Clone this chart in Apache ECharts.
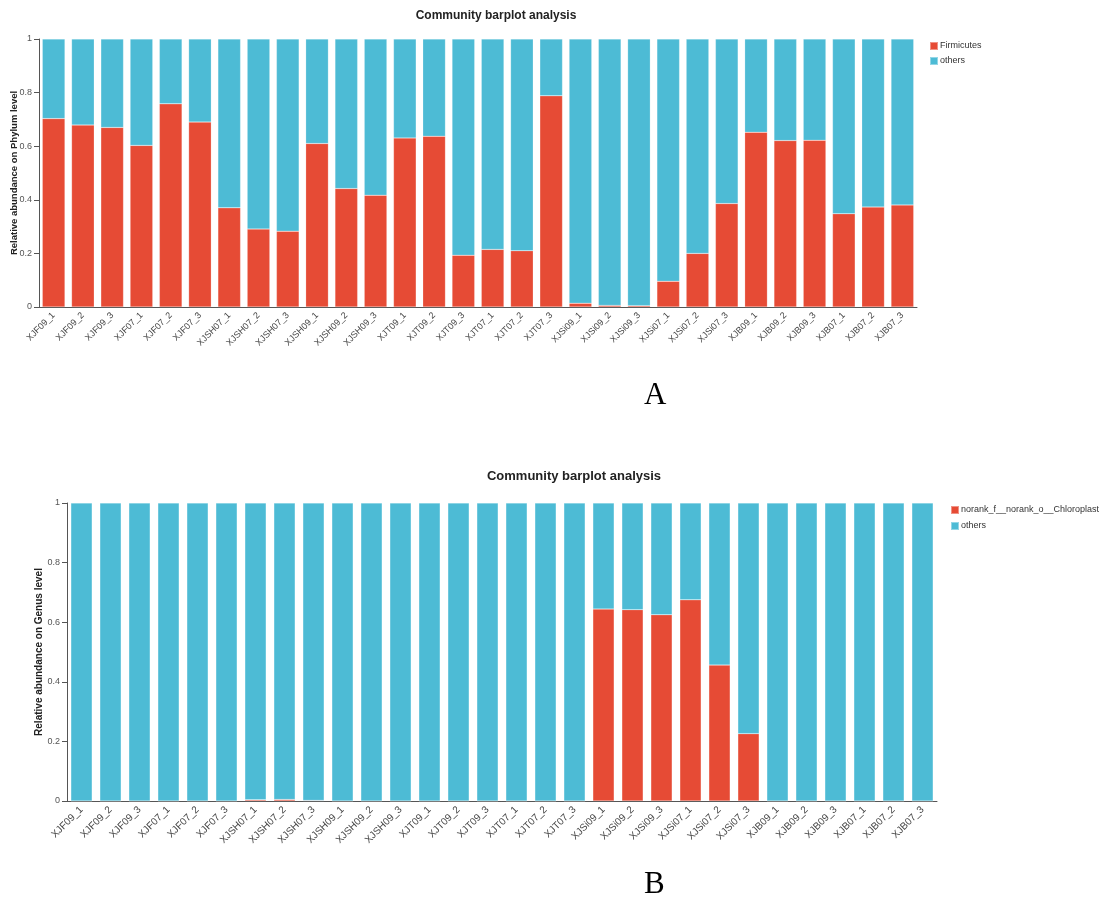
<!DOCTYPE html>
<html>
<head>
<meta charset="utf-8">
<script src="https://cdn.jsdelivr.net/npm/echarts@6/dist/echarts.min.js"></script>
<style>html,body{margin:0;padding:0;background:#fff}#c{width:1107px;height:908px}</style>
</head>
<body>
<div id="c"></div>
<script>
const categories = ['XJF09_1','XJF09_2','XJF09_3','XJF07_1','XJF07_2','XJF07_3',
  'XJSH07_1','XJSH07_2','XJSH07_3','XJSH09_1','XJSH09_2','XJSH09_3',
  'XJT09_1','XJT09_2','XJT09_3','XJT07_1','XJT07_2','XJT07_3',
  'XJSi09_1','XJSi09_2','XJSi09_3','XJSi07_1','XJSi07_2','XJSi07_3',
  'XJB09_1','XJB09_2','XJB09_3','XJB07_1','XJB07_2','XJB07_3'];

const phylumFirmicutes = [0.703,0.679,0.670,0.603,0.758,0.690,0.370,0.291,0.283,0.610,0.442,0.417,0.631,0.637,0.193,0.215,0.210,0.788,0.014,0.006,0.005,0.096,0.200,0.386,0.652,0.621,0.622,0.348,0.373,0.381];
const phylumOthers = [0.297,0.321,0.330,0.397,0.242,0.310,0.630,0.709,0.717,0.390,0.558,0.583,0.369,0.363,0.807,0.785,0.790,0.212,0.986,0.994,0.995,0.904,0.800,0.614,0.348,0.379,0.378,0.652,0.627,0.619];

const genusChloroplast = [0,0,0,0,0,0,0.004,0.005,0.002,0,0,0,0,0,0,0,0,0,0.644,0.642,0.625,0.675,0.456,0.226,0,0,0,0,0,0];
const genusOthers = [1,1,1,1,1,1,0.996,0.995,0.998,1,1,1,1,1,1,1,1,1,0.356,0.358,0.375,0.325,0.544,0.774,1,1,1,1,1,1];

const yTicks = [0, 0.2, 0.4, 0.6, 0.8, 1];
const titleText = 'Community barplot analysis';
const panelLetters = ['A', 'B'];

const RED = '#E64B35', BLUE = '#4DBBD5';
const axisColor = '#555';
const FONT = 'Liberation Sans, Arial, sans-serif';

function xAxisCfg(gi,fs){
  return {
    type:'category', gridIndex:gi, data:categories, boundaryGap:true,
    axisLine:{lineStyle:{color:axisColor,width:1}},
    axisTick:{alignWithLabel:true,length:4,lineStyle:{color:axisColor}},
    axisLabel:{rotate:45,fontSize:fs,color:'#444',margin:7,interval:0,fontFamily:FONT}
  };
}
function yAxisCfg(gi,name,gap,fs){
  return {
    type:'value', gridIndex:gi, min:yTicks[0], max:yTicks[yTicks.length-1], interval:0.2,
    name:name, nameLocation:'middle', nameGap:gap, nameRotate:90, nameMoveOverlap:false,
    nameTextStyle:{fontSize:fs,fontWeight:'bold',color:'#222',fontFamily:FONT},
    axisLine:{show:true,lineStyle:{color:axisColor,width:1}},
    axisTick:{show:true,length:5,lineStyle:{color:axisColor}},
    splitLine:{show:false},
    axisLabel:{fontSize:9,color:'#555',margin:7,fontFamily:FONT}
  };
}
function barSeries(name,data,color,xi,gap,stack){
  return {
    type:'bar', name:name, data:data, stack:stack, xAxisIndex:xi, yAxisIndex:xi,
    barCategoryGap:gap, itemStyle:{color:color,borderColor:'rgba(255,255,255,0.4)',borderWidth:0.5},
    emphasis:{disabled:true}, animation:false
  };
}

const chart = echarts.init(document.getElementById('c'));
chart.setOption({
  animation:false,
  title:[
    {text:titleText,left:491,top:5,textAlign:'center',textStyle:{fontSize:12,fontWeight:'bold',color:'#222',fontFamily:FONT}},
    {text:titleText,left:569,top:465,textAlign:'center',textStyle:{fontSize:13,fontWeight:'bold',color:'#222',fontFamily:FONT}}
  ],
  legend:[
    {orient:'vertical',left:929,top:41,padding:0,itemWidth:8,itemHeight:8,itemGap:5,icon:'rect',
     data:['Firmicutes','othersA'],
     formatter:n=>n==='othersA'?'others':n,
     textStyle:{fontSize:9,color:'#333',padding:[0,0,0,-3],fontFamily:FONT}},
    {orient:'vertical',left:950,top:505,padding:0,itemWidth:8,itemHeight:8,itemGap:6,icon:'rect',
     data:['norank_f__norank_o__Chloroplast','othersB'],
     formatter:n=>n==='othersB'?'others':n,
     textStyle:{fontSize:9,color:'#333',padding:[0,0,0,-3],fontFamily:FONT}}
  ],
  grid:[
    {left:39,top:39,width:878,height:268,containLabel:false},
    {left:67,top:503,width:870,height:298,containLabel:false}
  ],
  xAxis:[xAxisCfg(0,9),xAxisCfg(1,10)],
  yAxis:[yAxisCfg(0,'Relative abundance on Phylum level',20,9.5),yAxisCfg(1,'Relative abundance on Genus level',23,10)],
  series:[
    barSeries('Firmicutes',phylumFirmicutes,RED,0,'22.5%','a'),
    barSeries('othersA',phylumOthers,BLUE,0,'22.5%','a'),
    barSeries('norank_f__norank_o__Chloroplast',genusChloroplast,RED,1,'26.5%','b'),
    barSeries('othersB',genusOthers,BLUE,1,'26.5%','b')
  ],
  graphic:[
    {type:'text',left:644,top:380,style:{text:panelLetters[0],fontSize:31,fontFamily:'Liberation Serif, Times New Roman, serif',fill:'#000'}},
    {type:'text',left:644,top:869,style:{text:panelLetters[1],fontSize:31,fontFamily:'Liberation Serif, Times New Roman, serif',fill:'#000'}}
  ]
});
</script>
</body>
</html>
